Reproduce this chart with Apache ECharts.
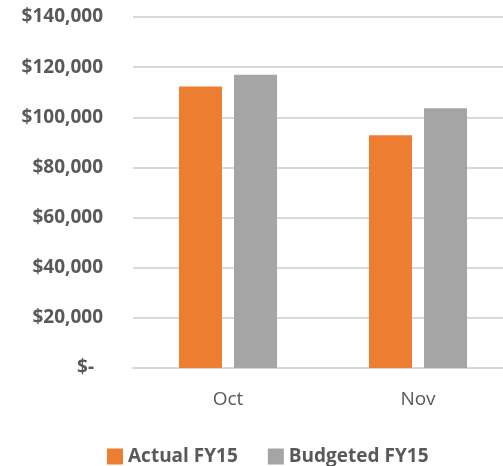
<!DOCTYPE html>
<html>
<head>
<meta charset="utf-8">
<script src="https://cdn.jsdelivr.net/npm/echarts@6/dist/echarts.min.js"></script>
<style>
  html, body { margin: 0; padding: 0; background: #fff; overflow: hidden; }
  /* a bit wider than the window: the plot runs past the right edge, as in the original */
  #chart { width: 513px; height: 466px; }
</style>
</head>
<body>
<div id="chart"></div>
<script>
var months = ["Oct", "Nov"];
var actualFY15 = [112300, 92800];
var budgetedFY15 = [117000, 103600];

var chart = echarts.init(document.getElementById("chart"));
var fontFamily = "'Open Sans', sans-serif";

var option = {
  animation: false,
  color: ["#ED7D31", "#A5A5A5"],
  grid: { left: 133, right: 0, top: 17, bottom: 98 },
  legend: {
    top: 442,
    left: 102,
    itemWidth: 16,
    itemHeight: 16,
    itemGap: 30,
    icon: "rect",
    textStyle: { color: "#595959", fontSize: 19, fontWeight: "bold", fontFamily: fontFamily },
    data: ["Actual FY15", "Budgeted FY15"]
  },
  xAxis: {
    type: "category",
    data: months,
    axisTick: { show: false },
    axisLine: { lineStyle: { color: "#D9D9D9", width: 2 } },
    axisLabel: { color: "#595959", fontSize: 19, margin: 22, fontFamily: fontFamily }
  },
  yAxis: {
    type: "value",
    min: 0,
    max: 140000,
    interval: 20000,
    axisLine: { show: false },
    axisTick: { show: false },
    splitLine: { lineStyle: { color: "#D9D9D9", width: 2 } },
    axisLabel: {
      margin: 30,
      color: "#595959",
      fontSize: 19,
      fontWeight: "bold",
      fontFamily: fontFamily,
      formatter: function (v) {
        if (v === 0) return "{z|$-}";
        return "$" + v.toLocaleString("en-US");
      },
      rich: {
        z: { color: "#595959", fontSize: 19, fontWeight: "bold", fontFamily: fontFamily, padding: [0, 9, 0, 0] }
      }
    }
  },
  series: [
    {
      name: "Actual FY15",
      type: "bar",
      data: actualFY15,
      barWidth: 43,
      barGap: "28%"
    },
    {
      name: "Budgeted FY15",
      type: "bar",
      data: budgetedFY15,
      barWidth: 43,
      barGap: "28%"
    }
  ]
};
chart.setOption(option);
</script>
</body>
</html>
